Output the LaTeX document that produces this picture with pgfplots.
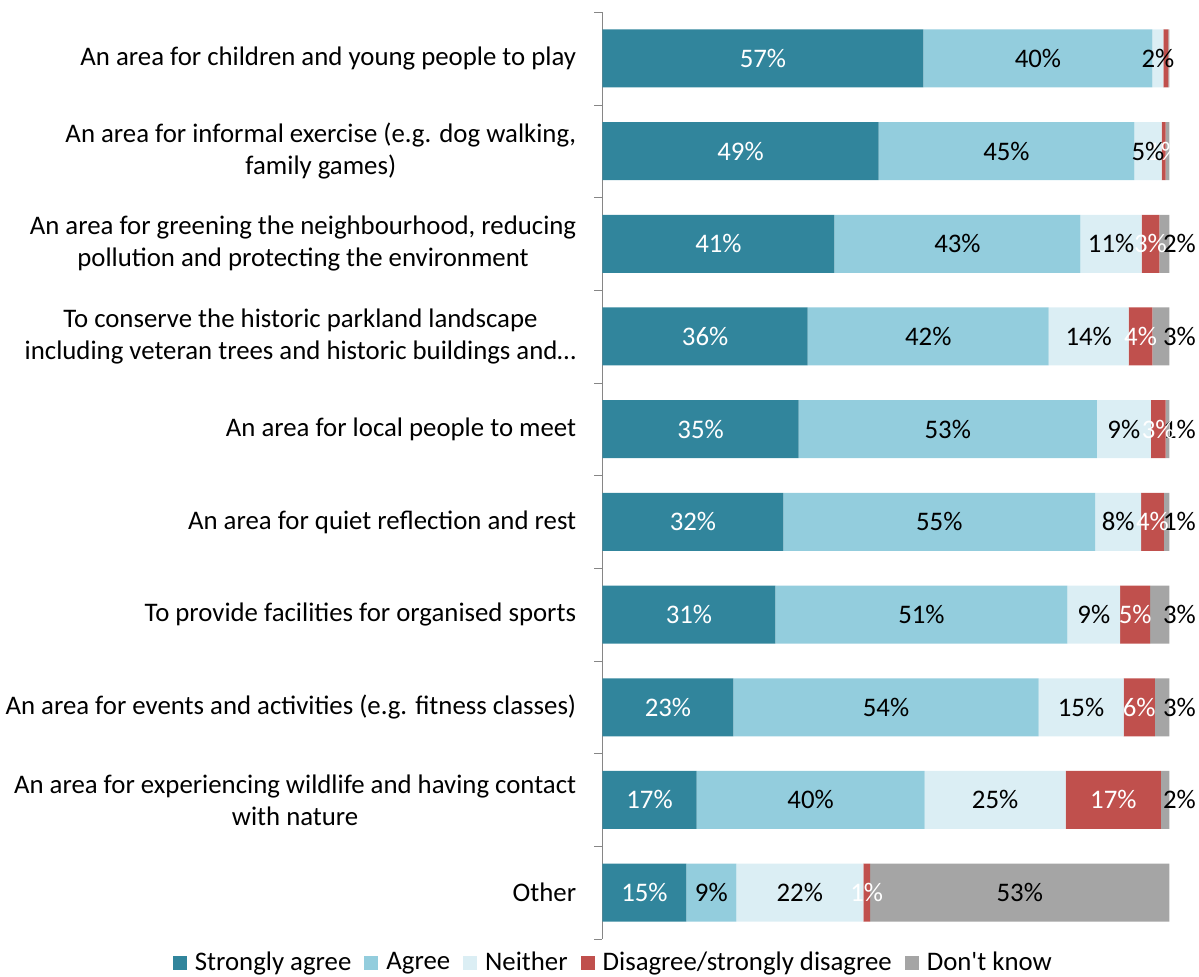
\documentclass[border=0pt]{standalone}
\usepackage{pgfplots}
\pgfplotsset{compat=1.18}
\usepackage{fontspec}
\setmainfont{Carlito}[Ligatures=TeXOff]

\definecolor{sagree}{HTML}{31859C}
\definecolor{agree}{HTML}{93CDDD}
\definecolor{neither}{HTML}{DBEEF4}
\definecolor{disagree}{HTML}{C0504D}
\definecolor{dontknow}{HTML}{A5A5A5}
\definecolor{axisgray}{HTML}{868686}

\newcommand\lblfont{\fontsize{13.4}{16}\selectfont}

\pgfplotsset{
  sqleg/.style={legend image code/.code={\fill[##1] (0pt,-3.5pt) rectangle (7pt,3.5pt);}},
  % stacked bars already put the label in the middle of its segment
  midlbl/.style={every node near coord/.style={anchor=center, font=\lblfont, text=#1}},
  % "don't know": small ones are pushed against the right edge
  dklbl/.style={every node near coord/.style={anchor=center, font=\lblfont, text=black,
      xshift={ifthenelse(\rawx>10,0,5+\rawx*1.4175)*1pt}}},
}

\begin{document}
\lblfont
\begin{tikzpicture}
\begin{axis}[
  xbar stacked, bar width=29pt,
  scale only axis, width=283.5pt, height=463.5pt,
  xmin=0, xmax=100, ymin=0.5, ymax=10.5, y dir=reverse,
  axis x line=none, axis y line*=left,
  axis line style={axisgray},
  ytick={1,...,10},
  yticklabels={
    {An area for children and young people to play},
    {An area for informal exercise (e.g. dog walking,\\family games)},
    {An area for greening the neighbourhood, reducing\\pollution and protecting the environment},
    {To conserve the historic parkland landscape\\including veteran trees and historic buildings and…},
    {An area for local people to meet},
    {An area for quiet reflection and rest},
    {To provide facilities for organised sports},
    {An area for events and activities (e.g. fitness classes)},
    {An area for experiencing wildlife and having contact\\with nature},
    {Other}},
  major tick length=0pt,
  minor ytick={0.5,1.5,...,10.5}, minor tick length=4pt,
  tick align=outside, minor tick style={axisgray},
  yticklabel style={align=center, font=\lblfont, xshift=-8.5pt},
  clip=false,
  point meta=explicit symbolic,
  visualization depends on={rawx \as \rawx},
  nodes near coords={\pgfplotspointmeta},
  legend columns=5,
  legend style={draw=none, at={(0.021,0)}, anchor=north, yshift=-2pt,
    font=\lblfont,
    /tikz/every odd column/.append style={column sep=2pt},
    /tikz/every even column/.append style={column sep=4.5pt}},
]
\addplot[fill=sagree, draw=none, sqleg, midlbl=white] coordinates {
  (56.6,1) [57\%] (48.7,2) [49\%] (40.9,3) [41\%] (36.2,4) [36\%] (34.6,5) [35\%]
  (31.9,6) [32\%] (30.5,7) [31\%] (23.1,8) [23\%] (16.6,9) [17\%] (14.8,10) [15\%]
};
\addplot[fill=agree, draw=none, sqleg, midlbl=black] coordinates {
  (40.4,1) [40\%] (45.1,2) [45\%] (43.4,3) [43\%] (42.5,4) [42\%] (52.6,5) [53\%]
  (55.0,6) [55\%] (51.5,7) [51\%] (53.8,8) [54\%] (40.2,9) [40\%] (8.8,10) [9\%]
};
\addplot[fill=neither, draw=none, sqleg, midlbl=black] coordinates {
  (1.9,1) [2\%] (4.8,2) [5\%] (10.8,3) [11\%] (14.1,4) [14\%] (9.5,5) [9\%]
  (8.1,6) [8\%] (9.3,7) [9\%] (15.0,8) [15\%] (24.9,9) [25\%] (22.4,10) [22\%]
};
\addplot[fill=disagree, draw=none, sqleg, midlbl=white] coordinates {
  (0.9,1) [{}] (0.7,2) [1\%] (3.1,3) [3\%] (4.2,4) [4\%] (2.6,5) [3\%]
  (4.0,6) [4\%] (5.3,7) [5\%] (5.5,8) [6\%] (16.8,9) [17\%] (1.2,10) [1\%]
};
\addplot[fill=dontknow, draw=none, sqleg, dklbl] coordinates {
  (0.2,1) [{}] (0.7,2) [{}] (1.8,3) [2\%] (3.0,4) [3\%] (0.7,5) [1\%]
  (1.0,6) [1\%] (3.4,7) [3\%] (2.6,8) [3\%] (1.5,9) [2\%] (52.8,10) [53\%]
};
\legend{Strongly agree, Agree, Neither, Disagree/strongly disagree, Don't know}
\end{axis}
% page size as in the reference, measured from the axis box
\pgfresetboundingbox
\path (current axis.south west) ++(-301.25pt,-18.5pt) rectangle (current axis.north east);
\path (current axis.north east) ++(14.75pt,6pt);
\end{tikzpicture}
\end{document}
